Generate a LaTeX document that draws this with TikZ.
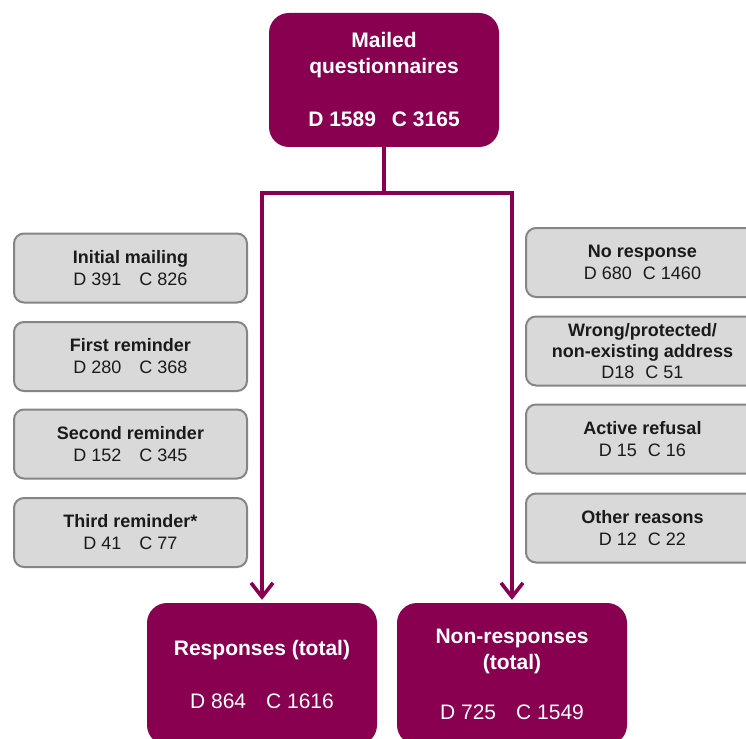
\documentclass[tikz,border=0pt]{standalone}
\usepackage{fontspec}
\setmainfont{Liberation Sans}
\usetikzlibrary{arrows.meta}
\definecolor{plum}{HTML}{8A0050}
\definecolor{boxgray}{HTML}{D9D9D9}
\definecolor{edgegray}{HTML}{858585}
\definecolor{txt}{HTML}{1A1A1A}
\begin{document}
\begin{tikzpicture}[x=1pt,y=-1pt,
 mainbox/.style={draw=none, fill=plum, rounded corners=20pt, minimum width=230pt, text=white, align=center, inner sep=0pt, font=\fontsize{21pt}{26pt}\selectfont},
 infobox/.style={draw=edgegray, line width=2pt, fill=boxgray, rounded corners=10pt, minimum width=233pt, minimum height=69pt, text=txt, align=center, inner sep=0pt, font=\fontsize{18pt}{22pt}\selectfont},
 flow/.style={draw=plum, line width=3.6pt},
 arr/.style={flow, -{Straight Barb[length=14pt,width=22pt]}, shorten >=3pt}]
\useasboundingbox (0,0) rectangle (746,738);
\clip (0,0) rectangle (746,738);
\fill[white] (0,0) rectangle (746,738);

\node[mainbox, minimum height=134pt] (mail) at (384,80) {\textbf{Mailed}\\\textbf{questionnaires}\\[27pt]\textbf{D 1589\hspace{16pt}C 3165}};
\node[mainbox, minimum height=142pt] (resp) at (262,674) {\textbf{Responses (total)}\\[27pt]D 864\hspace{20pt}C 1616};
\node[mainbox, minimum height=142pt] (nonresp) at (512,674) {\textbf{Non-responses}\\\textbf{(total)}\\[24pt]D 725\hspace{20pt}C 1549};

\node[infobox] (init) at (130.5,268) {\textbf{Initial mailing}\\D 391\hspace{18pt}C 826};
\node[infobox] (first) at (130.5,356.5) {\textbf{First reminder}\\D 280\hspace{18pt}C 368};
\node[infobox] (second) at (130.5,444) {\textbf{Second reminder}\\D 152\hspace{18pt}C 345};
\node[infobox] (third) at (130.5,532.5) {\textbf{Third reminder*}\\D 41\hspace{18pt}C 77};

\node[infobox] (noresp) at (642.5,262.5) {\textbf{No response}\\D 680\hspace{11pt}C 1460};
\node[infobox, font=\fontsize{18pt}{21pt}\selectfont] (wrong) at (642.5,351) {\textbf{Wrong/protected/}\\\textbf{non-existing address}\\D18\hspace{11pt}C 51};
\node[infobox] (refusal) at (642.5,439) {\textbf{Active refusal}\\D 15\hspace{11pt}C 16};
\node[infobox] (other) at (642.5,528) {\textbf{Other reasons}\\D 12\hspace{11pt}C 22};

\coordinate (split) at (384,193);
\draw[flow] (mail.south) -- (split);
\draw[arr] (split) -| (resp.north);
\draw[arr] (split) -| (nonresp.north);
\end{tikzpicture}
\end{document}
